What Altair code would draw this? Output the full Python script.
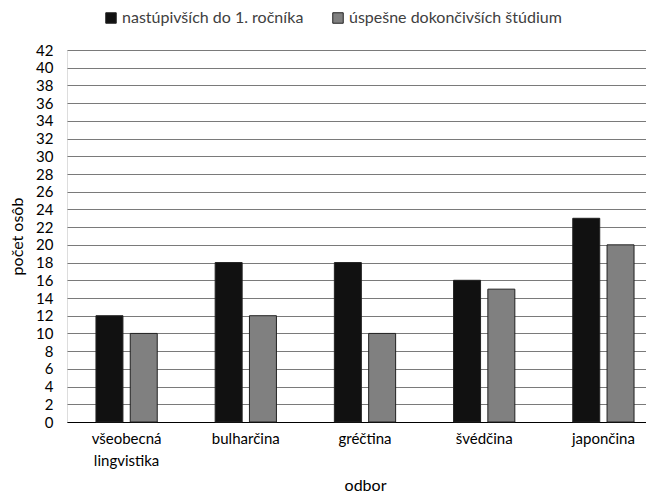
import altair as alt
import pandas as pd

categories = ["všeobecná lingvistika", "bulharčina", "gréčtina", "švédčina", "japončina"]
series = ["nastúpivších do 1. ročníka", "úspešne dokončivších štúdium"]
enrolled = [12, 18, 18, 16, 23]
graduated = [10, 12, 10, 15, 20]

rows = []
for c, a, b in zip(categories, enrolled, graduated):
    rows.append({"odbor": c, "séria": series[0], "hodnota": a})
    rows.append({"odbor": c, "séria": series[1], "hodnota": b})
df = pd.DataFrame(rows)

FONT = "Lato"

chart = alt.Chart(df).mark_bar(stroke="#222222", strokeWidth=1).encode(
    x=alt.X("odbor:N", sort=categories, title="odbor",
            scale=alt.Scale(paddingInner=0.486, paddingOuter=0.243, range=[0, 596]),
            axis=alt.Axis(labelAngle=0, ticks=False, domainColor="#000000", domainWidth=1,
                          labelFontSize=15, labelColor="#000000", labelFont=FONT,
                          labelPadding=9, labelLineHeight=22, titlePadding=9, titleFontSize=16,
                          titleFont=FONT, titleFontWeight="normal", titleColor="#000000",
                          titleX=298, titleAnchor="middle",
                          labelExpr="datum.label == 'všeobecná lingvistika' ? ['všeobecná', 'lingvistika'] : datum.label")),
    xOffset=alt.XOffset("séria:N", sort=series, scale=alt.Scale(paddingInner=0.213, paddingOuter=0)),
    y=alt.Y("hodnota:Q", title="počet osôb",
            scale=alt.Scale(domain=[0, 42], nice=False),
            axis=alt.Axis(values=list(range(0, 43, 2)), ticks=False, domain=False,
                          gridColor="#7a7a7a", gridWidth=1, labelFontSize=15,
                          labelColor="#000000", labelFont=FONT, labelPadding=14,
                          titlePadding=10, titleFontSize=16, titleFont=FONT,
                          titleFontWeight="normal", titleColor="#000000")),
    color=alt.Color("séria:N", sort=series,
                    scale=alt.Scale(domain=series, range=["#111111", "#808080"]),
                    legend=alt.Legend(orient="none", direction="horizontal", title=None,
                                      legendX=36, legendY=-40, symbolType="square",
                                      symbolSize=110, symbolStrokeColor="#222222",
                                      symbolStrokeWidth=1, labelFontSize=16, labelFont=FONT,
                                      labelColor="#404040", columnPadding=26, labelOffset=3,
                                      labelLimit=400)),
).properties(
    width=579, height=372,
    autosize=alt.AutoSizeParams(type="none"),
    padding={"left": 59, "top": 42, "right": 0, "bottom": 70},
).configure_view(stroke=None).configure(background="#ffffff")

chart.save("out.html", embed_options={"renderer": "svg", "actions": False})
